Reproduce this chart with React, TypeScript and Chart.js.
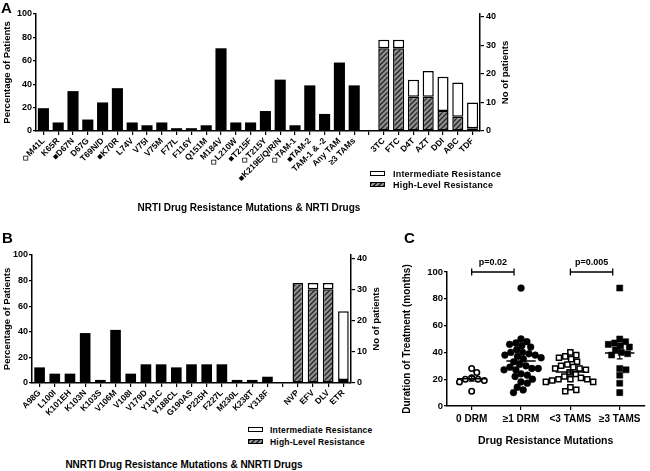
import React, { useEffect, useRef } from "react";
import { Chart, registerables } from "chart.js";

Chart.register(...registerables);

const FONT = "'Liberation Sans', Arial, Helvetica, sans-serif";
Chart.defaults.font.family = FONT;
Chart.defaults.color = "#000";

// ---------- Panel A: NRTI ----------
const nrtiMutationLabels = ["◇M41L", "K65R", "■D67N", "D67G", "T69N/D", "■K70R", "L74V", "V75I", "V75M", "F77L", "F116Y", "Q151M", "M184V", "◇L210W", "■T215F", "◇T215Y", "■K219E/Q/R/N", "◇TAM-1", "■TAM-2", "TAM-1 & -2", "Any TAM", "≥3 TAMs"];
const nrtiMutationPct = [19.5, 7.3, 34.1, 9.8, 24.4, 36.6, 7.3, 4.9, 7.3, 2.4, 2.4, 4.9, 70.7, 7.3, 7.3, 17.1, 43.9, 4.9, 39.0, 14.6, 58.5, 39.0];
const nrtiDrugLabels = ["3TC", "FTC", "D4T", "AZT", "DDI", "ABC", "TDF"];
const nrtiDrugTotal = [32, 32, 18, 21, 19, 17, 10];
const nrtiDrugHigh = [29, 29, 12, 12, 7, 5, 1];

// ---------- Panel B: NNRTI ----------
const nnrtiMutationLabels = ["A98G", "L100I", "K101EH", "K103N", "K103S", "V106M", "V108I", "V179D", "Y181C", "Y188CL", "G190AS", "P225H", "F227L", "M230L", "K238T", "Y318F"];
const nnrtiMutationPct = [12.2, 7.3, 7.3, 39.0, 2.4, 41.5, 7.3, 14.6, 14.6, 12.2, 14.6, 14.6, 14.6, 2.4, 2.4, 4.9];
const nnrtiDrugLabels = ["NVP", "EFV", "DLV", "ETR"];
const nnrtiDrugTotal = [32, 32, 32, 23];
const nnrtiDrugHigh = [32, 30, 30, 1];

const totalPatients = 41;

// ---------- Panel C: duration of treatment ----------
const durationGroupLabels = ["0 DRM", "≥1 DRM", "<3 TAMS", "≥3 TAMS"];
const durationZeroDrm = [28, 25, 21, 20, 20, 19, 18, 11];
const durationAnyDrm = [88, 50, 48, 47, 46, 45, 44, 42, 40, 40, 39, 38, 38, 37, 36, 35, 33, 31, 30, 29, 28, 28, 27, 27, 24, 23, 22, 20, 18, 17, 14, 12, 10];
const durationLt3Tams = [40, 38, 37, 36, 35, 33, 31, 30, 29, 28, 28, 27, 25, 24, 22, 21, 20, 20, 20, 19, 18, 18, 14, 12, 11];
const durationGe3Tams = [88, 50, 48, 47, 46, 45, 44, 42, 40, 39, 38, 28, 27, 23, 17, 10];
const pValueLabels = ["p=0.02", "p=0.005"];
const pValuePairs = [[0, 1], [2, 3]];

// layout constants for the swarm
const PX_PER_CAT = 50.5;
const PX_PER_MONTH = 1.34;
const SWARM_DIAM = 6.6;
const MEAN_HALF_WIDTH_PX = 15;

function makeHatch(): CanvasPattern | string {
  const c = document.createElement("canvas");
  c.width = 5;
  c.height = 5;
  const g = c.getContext("2d");
  if (!g) return "#888";
  g.fillStyle = "#909090";
  g.fillRect(0, 0, 5, 5);
  g.strokeStyle = "#252525";
  g.lineWidth = 1.3;
  g.beginPath();
  g.moveTo(-1, 6); g.lineTo(6, -1);
  g.moveTo(-1, 1); g.lineTo(1, -1);
  g.moveTo(4, 6); g.lineTo(6, 4);
  g.stroke();
  return g.createPattern(c, "repeat") || "#888";
}

const sideTitlePlugin = {
  id: "sideTitle",
  afterDraw(chart: any, _args: any, opts: any) {
    if (!opts || !opts.text) return;
    const { ctx, chartArea } = chart;
    ctx.save();
    ctx.translate(chartArea.right + opts.offset, (chartArea.top + chartArea.bottom) / 2);
    ctx.rotate(-Math.PI / 2);
    ctx.font = `bold ${opts.size}px ${FONT}`;
    ctx.fillStyle = "#000";
    ctx.textAlign = "center";
    ctx.textBaseline = "middle";
    ctx.fillText(opts.text, 0, 0);
    ctx.restore();
  },
};

function barConfig(
  mutLabels: string[], mutPct: number[], drugLabels: string[], drugTotal: number[], drugHigh: number[],
  hatch: any, g: { top: number; yW: number; y1W: number; xH: number; barPct: number; labelSize: number }
): any {
  const labels = [...mutLabels, "", ...drugLabels];
  const nm = mutLabels.length;
  const nd = drugLabels.length;
  const mutData = [...mutPct, ...new Array(nd + 1).fill(null)];
  const highData = [...new Array(nm + 1).fill(null), ...drugHigh];
  const interData = [...new Array(nm + 1).fill(null), ...drugTotal.map((t, i) => t - drugHigh[i])];
  const axisBorder = { display: true, color: "#000", width: 1.5 };
  return {
    type: "bar",
    data: {
      labels,
      datasets: [
        { label: "Mutations", data: mutData, yAxisID: "y", stack: "all", backgroundColor: "#000", borderWidth: 0, barPercentage: g.barPct, categoryPercentage: 1 },
        { label: "High-Level Resistance", data: highData, yAxisID: "y1", stack: "all", backgroundColor: hatch, borderColor: "#000", borderWidth: 1.5, borderSkipped: false, barPercentage: g.barPct, categoryPercentage: 1 },
        { label: "Intermediate Resistance", data: interData, yAxisID: "y1", stack: "all", backgroundColor: "#fff", borderColor: "#000", borderWidth: 1.5, borderSkipped: false, barPercentage: g.barPct, categoryPercentage: 1 },
      ],
    },
    options: {
      responsive: false,
      animation: false,
      devicePixelRatio: 1,
      layout: { padding: { top: g.top, left: 0, right: 0, bottom: 0 } },
      plugins: {
        legend: { display: false },
        tooltip: { enabled: false },
        sideTitle: { text: "No of patients", offset: 25, size: 9.5 },
      },
      scales: {
        x: {
          stacked: true,
          grid: { display: true, drawOnChartArea: false, drawTicks: true, tickLength: 4, offset: false, color: "#000", lineWidth: 1.2 },
          border: axisBorder,
          ticks: { autoSkip: false, maxRotation: 45, minRotation: 45, padding: 1, color: "#000", font: { size: g.labelSize, weight: "bold" } },
          afterFit: (s: any) => { s.height = g.xH; },
        },
        y: {
          stacked: true,
          position: "left",
          min: 0,
          max: 100,
          ticks: { stepSize: 10, padding: 1, color: "#000", font: { size: 9, weight: "bold" } },
          grid: { drawOnChartArea: false, drawTicks: true, tickLength: 3, color: "#000", lineWidth: 1.2 },
          border: axisBorder,
          title: { display: true, text: "Percentage of Patients", color: "#000", font: { size: 9.5, weight: "bold" }, padding: { top: 2, bottom: 0 } },
          afterFit: (s: any) => { s.width = g.yW; },
        },
        y1: {
          stacked: true,
          position: "right",
          min: 0,
          max: totalPatients,
          ticks: { stepSize: 10, includeBounds: false, padding: 2, color: "#000", font: { size: 9, weight: "bold" } },
          grid: { drawOnChartArea: false, drawTicks: true, tickLength: 4, color: "#000", lineWidth: 1.2 },
          border: axisBorder,
          afterFit: (s: any) => { s.width = g.y1W; },
        },
      },
    },
    plugins: [sideTitlePlugin],
  };
}

function swarmOffsets(values: number[], yPx: number, diam: number): number[] {
  const order = values.map((_, i) => i).sort((a, b) => values[b] - values[a]);
  const placed: { x: number; y: number }[] = [];
  const out = new Array(values.length).fill(0);
  for (const i of order) {
    const yy = values[i] * yPx;
    const cands = [0];
    for (const p of placed) {
      const dy = Math.abs(p.y - yy);
      if (dy < diam) {
        const dx = Math.sqrt(diam * diam - dy * dy);
        cands.push(p.x + dx, p.x - dx);
      }
    }
    cands.sort((a, b) => Math.abs(a) - Math.abs(b));
    let chosen = 0;
    for (const c of cands) {
      if (placed.every((p) => (p.x - c) ** 2 + (p.y - yy) ** 2 >= diam * diam - 0.01)) { chosen = c; break; }
    }
    placed.push({ x: chosen, y: yy });
    out[i] = chosen;
  }
  return out;
}

const mean = (a: number[]) => a.reduce((s, v) => s + v, 0) / a.length;
const sem = (a: number[]) => {
  const m = mean(a);
  const sd = Math.sqrt(a.reduce((s, v) => s + (v - m) ** 2, 0) / (a.length - 1));
  return sd / Math.sqrt(a.length);
};

function scatterConfig(): any {
  const groups = [durationZeroDrm, durationAnyDrm, durationLt3Tams, durationGe3Tams];
  const styles = [
    { pointStyle: "circle", radius: 2.7, fill: "#fff", bw: 1.6 },
    { pointStyle: "circle", radius: 3.4, fill: "#000", bw: 0.5 },
    { pointStyle: "rect", radius: 3.6, fill: "#fff", bw: 1.5 },
    { pointStyle: "rect", radius: 4.3, fill: "#000", bw: 0.5 },
  ];
  const lineSets: any[] = [];
  groups.forEach((vals, gi) => {
    const m = mean(vals);
    const s = sem(vals);
    const hw = MEAN_HALF_WIDTH_PX / PX_PER_CAT;
    const c = 3 / PX_PER_CAT;
    lineSets.push({ data: [{ x: gi - hw, y: m }, { x: gi + hw, y: m }], showLine: true, pointRadius: 0, borderColor: "#000", borderWidth: 1.5 });
    lineSets.push({ data: [{ x: gi - c, y: m + s }, { x: gi + c, y: m + s }, { x: gi, y: m + s }, { x: gi, y: m - s }, { x: gi - c, y: m - s }, { x: gi + c, y: m - s }], showLine: true, pointRadius: 0, borderColor: "#000", borderWidth: 1.2 });
  });
  const pointDatasets = groups.map((vals, gi) => {
    const offs = swarmOffsets(vals, PX_PER_MONTH, SWARM_DIAM);
    return {
      label: durationGroupLabels[gi],
      data: vals.map((v, k) => ({ x: gi + offs[k] / PX_PER_CAT, y: v })),
      pointStyle: styles[gi].pointStyle,
      pointRadius: styles[gi].radius,
      pointBackgroundColor: styles[gi].fill,
      pointBorderColor: "#000",
      pointBorderWidth: styles[gi].bw,
      showLine: false,
    };
  });

  const bracketPlugin = {
    id: "brackets",
    afterDraw(chart: any) {
      const { ctx, scales } = chart;
      const x = scales.x;
      const y = scales.y;
      const yy = y.getPixelForValue(100);
      ctx.save();
      ctx.strokeStyle = "#000";
      ctx.lineWidth = 1.3;
      ctx.fillStyle = "#000";
      ctx.font = `bold 9px ${FONT}`;
      ctx.textAlign = "center";
      ctx.textBaseline = "middle";
      pValuePairs.forEach(([a, b], i) => {
        const x1 = x.getPixelForValue(a);
        const x2 = x.getPixelForValue(b) - 7;
        ctx.beginPath();
        ctx.moveTo(x1, yy); ctx.lineTo(x2, yy);
        ctx.moveTo(x1, yy - 3.5); ctx.lineTo(x1, yy + 3.5);
        ctx.moveTo(x2, yy - 3.5); ctx.lineTo(x2, yy + 3.5);
        ctx.stroke();
        ctx.fillText(pValueLabels[i], (x1 + x2) / 2, yy - 9);
      });
      ctx.restore();
    },
  };

  const axisBorder = { display: true, color: "#000", width: 1.5 };
  return {
    type: "scatter",
    data: { datasets: [...lineSets, ...pointDatasets] },
    options: {
      responsive: false,
      animation: false,
      devicePixelRatio: 1,
      layout: { padding: { top: 32, left: 0, right: 1, bottom: 0 } },
      plugins: { legend: { display: false }, tooltip: { enabled: false } },
      scales: {
        x: {
          type: "linear",
          min: -0.5,
          max: 3.5,
          afterBuildTicks: (s: any) => { s.ticks = durationGroupLabels.map((_, i) => ({ value: i })); },
          ticks: { autoSkip: false, maxRotation: 0, padding: 3, color: "#000", font: { size: 10, weight: "bold" }, callback: (v: any) => durationGroupLabels[v] ?? "" },
          grid: { drawOnChartArea: false, drawTicks: true, tickLength: 4, color: "#000", lineWidth: 1.2 },
          border: axisBorder,
          title: { display: true, text: "Drug Resistance Mutations", color: "#000", font: { size: 10.5, weight: "bold" }, padding: { top: 0, bottom: 24 } },
          afterFit: (s: any) => { s.height = 65; },
        },
        y: {
          min: 0,
          max: 100,
          ticks: { stepSize: 10, padding: 1, color: "#000", font: { size: 9.5, weight: "bold" } },
          grid: { drawOnChartArea: false, drawTicks: true, tickLength: 3, color: "#000", lineWidth: 1.2 },
          border: axisBorder,
          title: { display: true, text: "Duration of Treatment (months)", color: "#000", font: { size: 10, weight: "bold" }, padding: { top: 6, bottom: 0 } },
          afterFit: (s: any) => { s.width = 52; },
        },
      },
    },
    plugins: [bracketPlugin],
  };
}

const txt = (left: number, top: number, size: number, text: string, extra: any = {}) => (
  <div style={{ position: "absolute", left, top, fontSize: size, fontWeight: "bold", lineHeight: 1, whiteSpace: "nowrap", color: "#000", ...extra }}>{text}</div>
);

const Swatch = ({ left, top, hatched }: { left: number; top: number; hatched?: boolean }) => (
  <div style={{ position: "absolute", left, top, width: 13, height: 3, border: "1.5px solid #000", background: hatched ? "repeating-linear-gradient(135deg, #252525 0px, #252525 1.2px, #909090 1.2px, #909090 3.5px)" : "#fff" }} />
);

export default function App() {
  const aRef = useRef<HTMLCanvasElement>(null);
  const bRef = useRef<HTMLCanvasElement>(null);
  const cRef = useRef<HTMLCanvasElement>(null);

  useEffect(() => {
    const hatch = makeHatch();
    const charts: Chart[] = [];
    if (aRef.current) charts.push(new Chart(aRef.current, barConfig(nrtiMutationLabels, nrtiMutationPct, nrtiDrugLabels, nrtiDrugTotal, nrtiDrugHigh, hatch, { top: 14, yW: 36, y1W: 40, xH: 69, barPct: 0.75, labelSize: 8.5 })));
    if (bRef.current) charts.push(new Chart(bRef.current, barConfig(nnrtiMutationLabels, nnrtiMutationPct, nnrtiDrugLabels, nnrtiDrugTotal, nnrtiDrugHigh, hatch, { top: 30, yW: 32, y1W: 39, xH: 42, barPct: 0.7, labelSize: 8.5 })));
    if (cRef.current) charts.push(new Chart(cRef.current, scatterConfig()));
    return () => charts.forEach((c) => c.destroy());
  }, []);

  return (
    <div style={{ position: "fixed", left: 0, top: 0, width: 650, height: 471, background: "#fff", fontFamily: FONT, overflow: "hidden" }}>
      <canvas ref={aRef} width={520} height={200} style={{ position: "absolute", left: 0, top: 0 }} />
      <canvas ref={bRef} width={390} height={200} style={{ position: "absolute", left: 0, top: 225 }} />
      <canvas ref={cRef} width={255} height={231} style={{ position: "absolute", left: 395, top: 240 }} />

      {txt(1, 0, 15, "A")}
      {txt(2, 230, 15, "B")}
      {txt(404, 230, 15, "C")}

      <Swatch left={370} top={171} />
      {txt(393, 170, 9, "Intermediate Resistance", { letterSpacing: 0.2 })}
      <Swatch left={370} top={182} hatched />
      {txt(393, 181, 9, "High-Level Resistance", { letterSpacing: 0.2 })}
      <div style={{ position: "absolute", left: 0, width: 498, top: 203, textAlign: "center", fontSize: 10, fontWeight: "bold", lineHeight: 1, whiteSpace: "nowrap" }}>NRTI Drug Resistance Mutations &amp; NRTI Drugs</div>

      <Swatch left={248} top={427} />
      {txt(270, 426, 8.5, "Intermediate Resistance", { letterSpacing: 0.2 })}
      <Swatch left={248} top={439} hatched />
      {txt(270, 438, 8.5, "High-Level Resistance", { letterSpacing: 0.2 })}
      <div style={{ position: "absolute", left: 0, width: 368, top: 460, textAlign: "center", fontSize: 10, fontWeight: "bold", lineHeight: 1, whiteSpace: "nowrap" }}>NNRTI Drug Resistance Mutations &amp; NNRTI Drugs</div>
    </div>
  );
}
